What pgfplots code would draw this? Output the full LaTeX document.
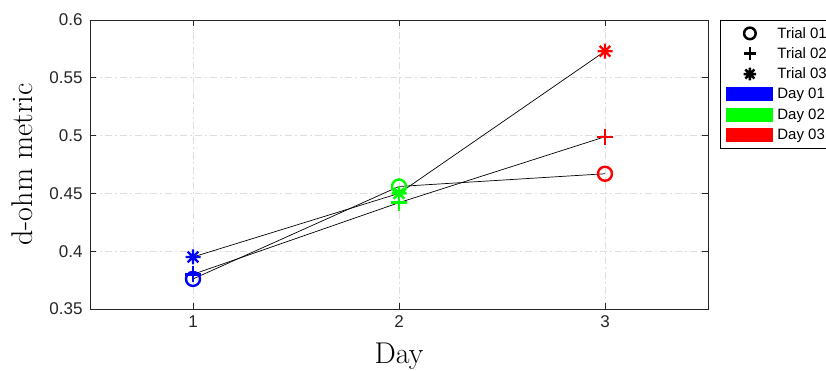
\documentclass[border=0pt]{standalone}
\usepackage{fontspec}
\usepackage{pgfplots}
\pgfplotsset{compat=1.18}
\newfontfamily\hv{Liberation Sans}

\definecolor{dayA}{RGB}{0,0,255}
\definecolor{dayB}{RGB}{0,255,0}
\definecolor{dayC}{RGB}{255,0,0}
\definecolor{gridc}{RGB}{222,222,222}
\definecolor{axc}{RGB}{38,38,38}

% eight-armed star marker
\pgfdeclareplotmark{mstar}{%
  \pgfpathmoveto{\pgfqpoint{-\pgfplotmarksize}{0pt}}%
  \pgfpathlineto{\pgfqpoint{\pgfplotmarksize}{0pt}}%
  \pgfpathmoveto{\pgfqpoint{0pt}{-\pgfplotmarksize}}%
  \pgfpathlineto{\pgfqpoint{0pt}{\pgfplotmarksize}}%
  \pgfpathmoveto{\pgfqpoint{-0.7071\pgfplotmarksize}{-0.7071\pgfplotmarksize}}%
  \pgfpathlineto{\pgfqpoint{0.7071\pgfplotmarksize}{0.7071\pgfplotmarksize}}%
  \pgfpathmoveto{\pgfqpoint{-0.7071\pgfplotmarksize}{0.7071\pgfplotmarksize}}%
  \pgfpathlineto{\pgfqpoint{0.7071\pgfplotmarksize}{-0.7071\pgfplotmarksize}}%
  \pgfusepathqstroke}

% d-ohm metric per day, one column per trial
\pgfplotstableread{
day t1    t2    t3
1   0.376 0.380 0.395
2   0.456 0.442 0.450
3   0.467 0.499 0.573
}\dohm

\pgfplotsset{
  markleg/.style={legend image code/.code={%
      \path[draw=none, fill=none] (0pt,-7pt) rectangle (47pt,7pt);
      \draw[##1] plot coordinates {(23.5pt,0pt)};}},
  rectleg/.style={legend image code/.code={%
      \fill[##1, draw=none] (0pt,-7pt) rectangle (47pt,7pt);}},
  daymarks/.style={only marks, scatter, point meta=x,
      point meta min=1, point meta max=3,
      colormap={days}{rgb255=(0,0,255) rgb255=(0,255,0) rgb255=(255,0,0)},
      scatter/use mapped color={draw=mapped color, fill=mapped color},
      line width=2.4pt},
}

\begin{document}
\begin{tikzpicture}
\useasboundingbox (0pt,0pt) rectangle (826pt,370pt);
\begin{axis}[
  at={(90pt,61pt)}, anchor=south west,
  scale only axis, width=618pt, height=289pt,
  xmin=0.5, xmax=3.5, ymin=0.35, ymax=0.6,
  xtick={1,2,3},
  ytick={0.35,0.4,0.45,0.5,0.55,0.6},
  yticklabels={0.35,0.4,0.45,0.5,0.55,0.6},
  tick align=inside, major tick length=6pt,
  xtick pos=both, ytick pos=both,
  tick style={axc, line width=0.8pt},
  axis line style={axc, line width=0.9pt},
  grid=major,
  major grid style={gridc, line width=0.9pt, dash pattern=on 7pt off 3pt on 2pt off 3pt},
  /pgf/number format/assume math mode=true,
  ticklabel style={font=\hv\fontsize{17}{17}\selectfont, text=axc},
  xticklabel style={yshift=-3pt},
  yticklabel style={xshift=-4pt},
  xlabel={Day}, ylabel={d-ohm metric},
  label style={font=\fontsize{30}{30}\selectfont},
  xlabel style={at={(axis description cs:0.5,-0.163)}, anchor=center},
  ylabel style={at={(axis description cs:-0.110,0.5)}, anchor=center},
  legend style={at={(axis description cs:1.0194,1)}, anchor=north west,
    draw=black, line width=0.8pt, fill=white,
    font=\hv\fontsize{15}{15}\selectfont,
    inner xsep=6pt, inner ysep=6pt, row sep=6.3pt,
    nodes={inner sep=0pt},
    /tikz/every odd column/.append style={column sep=4pt}},
  legend cell align=left,
]
% markers, coloured by day
\addplot[daymarks, mark=o, mark size=7pt, forget plot] table[x=day, y=t1] {\dohm};
\addplot[daymarks, mark=+, mark size=8pt, forget plot] table[x=day, y=t2] {\dohm};
\addplot[daymarks, mark=mstar, mark size=7.5pt, forget plot] table[x=day, y=t3] {\dohm};
% connecting lines for each trial
\addplot[black, line width=0.7pt, forget plot] table[x=day, y=t1] {\dohm};
\addplot[black, line width=0.7pt, forget plot] table[x=day, y=t2] {\dohm};
\addplot[black, line width=0.7pt, forget plot] table[x=day, y=t3] {\dohm};

\addlegendimage{markleg, black, line width=2.5pt, mark=o, mark size=5.8pt}
\addlegendentry{Trial 01}
\addlegendimage{markleg, black, line width=2.5pt, mark=+, mark size=6.3pt}
\addlegendentry{Trial 02}
\addlegendimage{markleg, black, line width=2.5pt, mark=mstar, mark size=6.3pt}
\addlegendentry{Trial 03}
\addlegendimage{rectleg, fill=dayA}
\addlegendentry{Day 01}
\addlegendimage{rectleg, fill=dayB}
\addlegendentry{Day 02}
\addlegendimage{rectleg, fill=dayC}
\addlegendentry{Day 03}
\end{axis}
\end{tikzpicture}
\end{document}
